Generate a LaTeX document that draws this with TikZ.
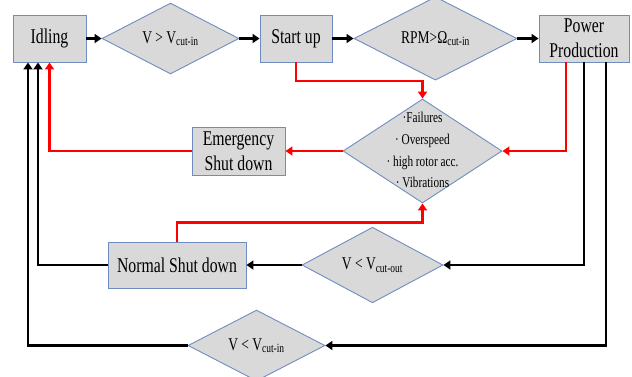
\documentclass[tikz,border=0pt]{standalone}
\usepackage{fontspec}
\setmainfont{Liberation Serif}[FakeStretch=0.75]
\usetikzlibrary{shapes.geometric,arrows.meta}
\definecolor{boxline}{HTML}{6F8DC0}
\definecolor{boxfill}{HTML}{D9D9D9}
\definecolor{alarm}{HTML}{FF0000}
\newcommand{\zerobox}[1]{\vbox to 0pt{\vss\hbox to 0pt{\hss#1\hss}\vss}}
\begin{document}
\begin{tikzpicture}[x=1pt, y=1pt, >={Triangle[length=7pt,width=9pt]},
  state/.style={shape=rectangle, draw=boxline, fill=boxfill, line width=0.9pt, inner sep=0pt, align=center, font=\fontsize{21}{25}\selectfont},
  test/.style={shape=diamond, draw=boxline, fill=boxfill, line width=0.9pt, inner sep=0pt, font=\fontsize{18}{20}\selectfont},
  flow/.style={line width=2.9pt, ->},
  trip/.style={flow, line width=2.6pt, draw=alarm}]
\useasboundingbox (0,0) rectangle (632,-376);

\node [state, minimum width=73pt, minimum height=47pt] (idle) at (49.5,-38.5) {Idling};
\node [test, minimum width=137pt, minimum height=62pt, right of=idle, node distance=121pt] (cutin) {V > V\textsubscript{cut-in}};
\node [state, minimum width=72pt, minimum height=47pt, right of=cutin, node distance=125.5pt] (start) {Start up};
\node [test, minimum width=163pt, minimum height=62pt, right of=start, node distance=139.5pt] (rpm) {RPM>Ω\textsubscript{cut-in}};
\node [state, minimum width=90pt, minimum height=47pt, right of=rpm, node distance=148.5pt] (power) {Power\\Production};
\node [test, minimum width=159pt, minimum height=104pt] (fail) at (422.5,-151)
  {\zerobox{\fontsize{15}{18}\selectfont\renewcommand{\arraystretch}{1.2}\begin{tabular}{@{}c@{}}·Failures\\· Overspeed\\· high rotor acc.\\· Vibrations\end{tabular}}};
\node [state, minimum width=93pt, minimum height=48pt, left of=fail, node distance=184pt] (emerg) {Emergency\\Shut down};
\node [state, minimum width=138pt, minimum height=46pt] (normal) at (177,-265) {Normal Shut down};
\node [test, minimum width=141pt, minimum height=61pt, right of=normal, node distance=195.5pt] (cutout) {V < V\textsubscript{cut-out}};
\node [test, minimum width=137pt, minimum height=60pt] (cutinlow) at (256.5,-345.5) {V < V\textsubscript{cut-in}};

% start-up sequence
\draw[flow] (idle) -- (cutin);
\draw[flow] (cutin) -- (start);
\draw[flow] (start) -- (rpm);
\draw[flow] (rpm) -- (power);

% fault path
\draw[trip] (start.south) -- ++(0,-18.5) -| (fail.north);
\draw[trip] ([xshift=-18pt]power.south) |- (fail.east);
\draw[trip] (normal.north) -- ++(0,19) -| (fail.south);
\draw[trip] (fail.west) -- (emerg.east);
\draw[trip] (emerg.west) -| (idle.south);

% normal stops
\draw[flow] (power.south) |- (cutout.east);
\draw[flow] (cutout.west) -- (normal.east);
\draw[flow] (normal.west) -| ([xshift=-11.5pt]idle.south);
\draw[flow] ([xshift=22pt]power.south) |- (cutinlow.east);
\draw[flow] (cutinlow.west) -| ([xshift=-21.5pt]idle.south);
\end{tikzpicture}
\end{document}
